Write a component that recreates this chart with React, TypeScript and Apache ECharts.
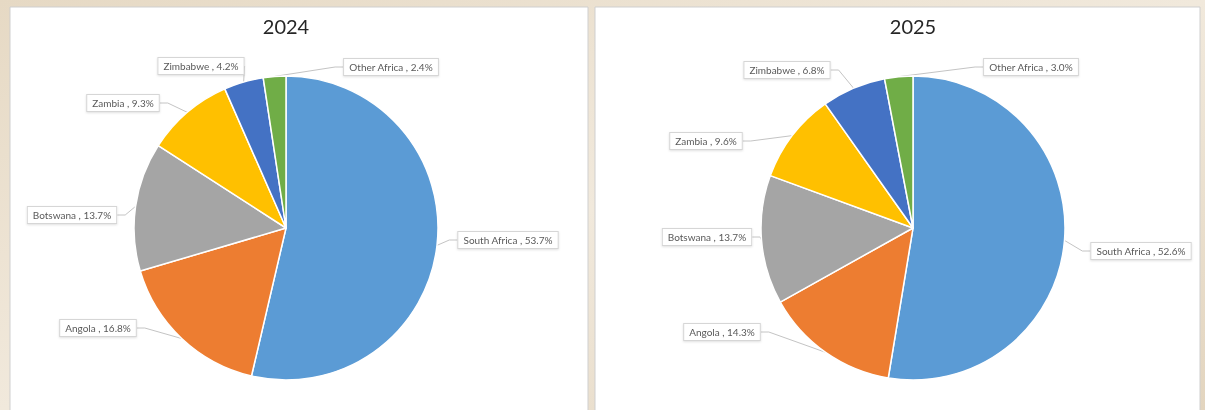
import React, { useEffect, useRef } from "react";
import * as echarts from "echarts";

const categories = ["South Africa", "Angola", "Botswana", "Zambia", "Zimbabwe", "Other Africa"];
const share2024 = [53.7, 16.8, 13.7, 9.3, 4.2, 2.4];
const share2025 = [52.6, 14.3, 13.7, 9.6, 6.8, 3.0];
const years = ["2024", "2025"];
const sliceColors = ["#5B9BD5", "#ED7D31", "#A5A5A5", "#FFC000", "#4472C4", "#70AD47"];

// label box centres (px), one per category
const labelPos2024 = [[508, 240], [98, 328], [72, 215], [123, 103], [201, 66], [391, 67]];
const labelPos2025 = [[1141, 251], [722, 332], [707, 237], [706, 141], [787, 70], [1031, 67]];

const W = 1205;
const H = 410;

function buildData(values: number[]) {
  return categories.map((name, i) => ({
    name,
    value: values[i],
    itemStyle: { color: sliceColors[i] },
  }));
}

export default function App() {
  const ref = useRef<HTMLDivElement>(null);

  useEffect(() => {
    if (!ref.current) return;
    const chart = echarts.init(ref.current, undefined, { renderer: "svg", width: W, height: H });
    const labelFont = "Lato, 'Liberation Sans', sans-serif";

    const pieSeries = (values: number[], centerX: number, positions: number[][]) => ({
      type: "pie",
      center: [centerX, 228],
      radius: 152,
      startAngle: 90,
      clockwise: true,
      avoidLabelOverlap: false,
      data: buildData(values),
      itemStyle: { borderColor: "#ffffff", borderWidth: 1.5 },
      label: {
        show: true,
        position: "outside",
        formatter: (p: any) => `${p.name} , ${Number(p.value).toFixed(1)}%`,
        fontFamily: labelFont,
        fontSize: 10,
        color: "#595959",
        backgroundColor: "#ffffff",
        borderColor: "#d6d6d6",
        borderWidth: 1,
        padding: [3, 5, 3, 5],
        shadowColor: "rgba(0,0,0,0.12)",
        shadowBlur: 2,
        shadowOffsetY: 1,
      },
      labelLine: {
        show: true,
        length: 8,
        length2: 8,
        lineStyle: { color: "#c4c4c4", width: 1 },
      },
      labelLayout: (params: any) => {
        const pos = positions[params.dataIndex];
        return { x: pos[0], y: pos[1], align: "center", verticalAlign: "middle" };
      },
      emphasis: { disabled: true },
    });

    chart.setOption({
      animation: false,
      backgroundColor: "transparent",
      graphic: [
        {
          type: "rect",
          shape: { x: 0, y: 0, width: W, height: H },
          style: {
            fill: new echarts.graphic.LinearGradient(0, 0, 1, 1, [
              { offset: 0, color: "#e6d9c4" },
              { offset: 0.5, color: "#f1e9dc" },
              { offset: 1, color: "#e3d5bf" },
            ]),
          },
          z: -10,
        },
        {
          type: "rect",
          shape: { x: 10, y: 7, width: 578, height: 410 },
          style: { fill: "#ffffff", stroke: "#cfcfcf", lineWidth: 1 },
          z: -9,
        },
        {
          type: "rect",
          shape: { x: 595, y: 7, width: 605, height: 410 },
          style: { fill: "#ffffff", stroke: "#cfcfcf", lineWidth: 1 },
          z: -9,
        },
        {
          type: "text",
          x: 286,
          y: 26,
          style: {
            text: years[0],
            fill: "#262626",
            font: "20px Lato, 'Liberation Sans', sans-serif",
            textAlign: "center",
            textVerticalAlign: "middle",
          },
        },
        {
          type: "text",
          x: 913,
          y: 26,
          style: {
            text: years[1],
            fill: "#262626",
            font: "20px Lato, 'Liberation Sans', sans-serif",
            textAlign: "center",
            textVerticalAlign: "middle",
          },
        },
      ],
      series: [
        pieSeries(share2024, 286, labelPos2024),
        pieSeries(share2025, 913, labelPos2025),
      ],
    });

    return () => chart.dispose();
  }, []);

  return (
    <div
      ref={ref}
      style={{ position: "fixed", left: 0, top: 0, width: W, height: H }}
    />
  );
}
